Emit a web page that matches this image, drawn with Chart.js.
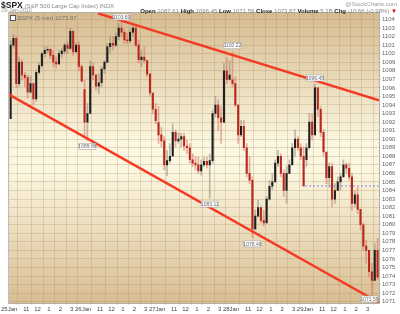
<!DOCTYPE html>
<html>
<head>
<meta charset="utf-8">
<script src="https://cdn.jsdelivr.net/npm/chart.js@4.4.1/dist/chart.umd.min.js"></script>
<style>
  html, body { margin: 0; padding: 0; background: #fff; }
  #wrap { position: relative; width: 400px; height: 314px; font-family: 'Liberation Sans', Arial, sans-serif; overflow: hidden; }
  #chart { position: absolute; left: 0; top: 0; }
  .hdr { position: absolute; white-space: nowrap; font-size: 6px; color: #888; line-height: 1; }
  .hdr b { color: #222; }
</style>
</head>
<body>
<div id="wrap">
  <canvas id="chart" width="400" height="314"></canvas>
  <div class="hdr" style="left:1px;top:1px;"><b style="font-size:8.5px;">$SPX</b> (S&amp;P 500 Large Cap Index) INDX</div>
  <div class="hdr" style="right:3px;top:1px;color:#999;">@StockCharts.com</div>
  <div class="hdr" style="left:1px;top:8px;color:#999;font-size:5.5px;">29-Jan-2010</div>
  <div class="hdr" style="right:3px;top:8px;"><b>Open</b> 1087.61 <b>High</b> 1096.45 <b>Low</b> 1071.59 <b>Close</b> 1073.87 <b>Volume</b> 5.2B <b>Chg</b> -10.66 (-0.98%) <span style="color:#d00">&#9660;</span></div>
  <div class="hdr" style="left:10px;top:15px;color:#777;"><span style="display:inline-block;width:4px;height:4px;border:1px solid #555;background:#fff;vertical-align:-1px;"></span> $SPX (5 min) 1073.87</div>
</div>
<script>
// 15-minute bars, 26 per session
const dayLabels = ['25Jan', '26Jan', '27Jan', '28Jan', '29Jan'];
const dayOpens = [1092.40, 1095.80, 1091.94, 1096.93, 1087.61];

const highs = [
  1101.5, 1102.3, 1102.0, 1099.6, 1099.3, 1097.8, 1097.5, 1097.4, 1096.6, 1098.1, 1098.9, 1100.2, 1100.8, 1100.8, 1100.6, 1100.4, 1099.6, 1100.4, 1100.6, 1101.2, 1101.4, 1102.97, 1102.7, 1101.3, 1101.4, 1098.7,
  1096.9, 1094.2, 1099.2, 1098.9, 1097.6, 1097.7, 1098.5, 1099.2, 1101.2, 1102.0, 1102.0, 1102.4, 1103.5, 1103.69, 1102.8, 1102.4, 1102.8, 1103.6, 1103.3, 1101.6, 1100.4, 1100.8, 1099.2, 1097.7, 1095.3, 1094.2,
  1093.8, 1091.4, 1090.3, 1088.7, 1089.5, 1091.8, 1091.1, 1090.7, 1090.7, 1090.7, 1089.9, 1089.5, 1088.3, 1087.9, 1087.9, 1087.6, 1087.9, 1087.9, 1088.3, 1093.4, 1095.0, 1094.6, 1093.8, 1098.9, 1099.51, 1099.2,
  1100.22, 1097.3, 1094.0, 1092.2, 1092.2, 1089.5, 1088.0, 1085.6, 1081.7, 1082.9, 1082.1, 1081.7, 1083.3, 1085.2, 1086.0, 1087.6, 1088.7, 1088.3, 1086.4, 1086.8, 1087.6, 1089.5, 1091.1, 1090.3, 1089.5, 1089.1,
  1089.5, 1093.0, 1093.0, 1096.45, 1096.0, 1093.8, 1091.1, 1088.5, 1087.2, 1087.2, 1084.8, 1085.6, 1086.0, 1087.6, 1087.2, 1087.2, 1086.0, 1084.0, 1084.4, 1081.8, 1080.2, 1078.2, 1077.0, 1075.5, 1077.8, 1078.4
];
const lows = [
  1092.4, 1100.6, 1096.0, 1096.2, 1096.9, 1096.1, 1094.8, 1095.4, 1094.0, 1094.4, 1097.6, 1098.4, 1099.6, 1100.0, 1099.4, 1098.5, 1098.3, 1098.7, 1099.6, 1100.0, 1100.0, 1100.5, 1099.8, 1100.2, 1098.0, 1096.7,
  1090.3, 1089.86, 1093.0, 1096.9, 1095.7, 1095.3, 1096.1, 1097.7, 1098.9, 1100.0, 1100.4, 1100.8, 1101.6, 1102.0, 1101.2, 1101.2, 1101.2, 1102.0, 1100.8, 1098.9, 1098.5, 1098.9, 1097.3, 1095.0, 1093.0, 1091.8,
  1089.5, 1089.1, 1086.4, 1085.7, 1087.2, 1088.7, 1089.1, 1089.5, 1089.1, 1088.7, 1088.3, 1087.2, 1086.8, 1086.4, 1086.0, 1085.8, 1086.8, 1086.6, 1083.11, 1087.2, 1092.6, 1091.0, 1089.5, 1091.9, 1096.5, 1096.9,
  1096.1, 1093.8, 1089.5, 1090.3, 1088.7, 1085.6, 1084.8, 1078.46, 1079.4, 1080.9, 1080.2, 1079.8, 1080.2, 1082.9, 1084.1, 1085.6, 1086.8, 1085.6, 1083.3, 1082.5, 1086.0, 1087.2, 1088.0, 1088.7, 1087.6, 1084.5,
  1086.8, 1088.8, 1089.9, 1090.5, 1092.6, 1090.3, 1088.0, 1084.8, 1084.4, 1082.1, 1082.5, 1084.0, 1084.1, 1085.6, 1086.0, 1085.2, 1081.7, 1082.1, 1081.3, 1079.4, 1077.0, 1075.5, 1073.9, 1071.59, 1073.5, 1073.6
];
const closes = [
  1101.0, 1101.8, 1096.5, 1099.0, 1097.5, 1097.2, 1095.5, 1096.5, 1094.7, 1097.8, 1098.6, 1100.0, 1100.4, 1100.5, 1099.8, 1099.0, 1098.8, 1100.0, 1100.3, 1101.0, 1100.6, 1102.6, 1100.2, 1101.0, 1098.5, 1096.78,
  1092.0, 1093.0, 1098.5, 1097.5, 1096.2, 1096.6, 1098.2, 1099.0, 1100.8, 1101.2, 1101.0, 1102.0, 1103.0, 1102.5, 1101.6, 1101.5, 1102.5, 1103.0, 1101.0, 1099.3, 1099.6, 1099.2, 1097.6, 1095.4, 1093.5, 1092.17,
  1090.5, 1089.8, 1087.0, 1087.5, 1088.0, 1090.8, 1089.8, 1090.0, 1090.3, 1089.2, 1089.0, 1087.6, 1087.2, 1087.0, 1086.3, 1087.0, 1087.4, 1087.0, 1087.5, 1093.0, 1094.0, 1092.5, 1092.0, 1098.0, 1097.0, 1097.5,
  1096.5, 1094.0, 1090.5, 1091.5, 1089.0, 1086.0, 1085.2, 1079.5, 1081.0, 1082.0, 1080.5, 1080.2, 1083.0, 1084.5, 1085.0, 1087.2, 1088.0, 1086.0, 1084.0, 1086.0, 1087.0, 1089.0, 1090.0, 1089.0, 1088.0, 1084.53,
  1089.0, 1092.0, 1090.5, 1096.0, 1093.5, 1090.8, 1088.5, 1085.5, 1086.8, 1083.0, 1084.0, 1085.0, 1085.6, 1087.0, 1086.6, 1085.6, 1082.5, 1083.5, 1081.8, 1080.0, 1077.5, 1077.0, 1074.5, 1073.5, 1077.0, 1073.87
];

// trend lines drawn on the chart (x in 15-min bars from 25Jan open)
const upperTrendX = [31.2, 130];
const upperTrendY = [1104.7, 1094.55];
const lowerTrendX = [0, 130];
const lowerTrendY = [1095.2, 1070.9];
const prevCloseX = [104, 130];
const prevClose = 1084.53;

const markedHighs = [1103.69, 1100.22, 1096.45];
const markedLows = [1089.86, 1083.11, 1078.46, 1071.59];

const xTickPos = [0, 6, 10, 14, 18, 22, 26, 32, 36, 40, 44, 48, 52, 58, 62, 66, 70, 74, 78, 84, 88, 92, 96, 100, 104, 110, 114, 118, 122, 126];
const xTickLabels = ['25Jan', '11', '12', '1', '2', '3', '26Jan', '11', '12', '1', '2', '3', '27Jan', '11', '12', '1', '2', '3',
                     '28Jan', '11', '12', '1', '2', '3', '29Jan', '11', '12', '1', '2', '3'];
const yTicks = [1071, 1072, 1073, 1074, 1075, 1076, 1077, 1078, 1079, 1080, 1081, 1082, 1083, 1084, 1085, 1086, 1087,
                1088, 1089, 1090, 1091, 1092, 1093, 1094, 1095, 1096, 1097, 1098, 1099, 1100, 1101, 1102, 1103, 1104];

const barsPerDay = 26;
const opens = closes.map((c, i) => i % barsPerDay === 0 ? dayOpens[i / barsPerDay] : closes[i - 1]);

const wickData = highs.map((h, i) => ({ x: i + 0.5, y: [lows[i], h] }));
const bodyData = closes.map((c, i) => ({ x: i + 0.5, y: [opens[i], c] }));
const upBar = closes.map((c, i) => c >= opens[i]);
const wickColors = upBar.map(u => u ? 'rgba(140,135,120,0.55)' : 'rgba(220,110,100,0.55)');
const bodyColors = upBar.map(u => u ? '#1e1e1e' : '#b8281d');

// tan-cream-tan background and frame
const backdrop = {
    id: 'backdrop',
    beforeDraw(chart) {
        const { ctx, chartArea: a } = chart;
        const g = ctx.createLinearGradient(0, a.top, 0, a.bottom);
        g.addColorStop(0, '#d6bb90');
        g.addColorStop(0.45, '#fbf7e1');
        g.addColorStop(0.55, '#fbf6df');
        g.addColorStop(1, '#d8bd93');
        ctx.save();
        ctx.fillStyle = g;
        ctx.fillRect(a.left, a.top, a.right - a.left, a.bottom - a.top);
        ctx.restore();
    },
    afterDraw(chart) {
        const { ctx, chartArea: a } = chart;
        ctx.save();
        ctx.strokeStyle = '#b5b0a5';
        ctx.lineWidth = 1;
        ctx.strokeRect(a.left - 0.5, a.top - 0.5, a.right - a.left + 1, a.bottom - a.top + 1);
        ctx.restore();
    }
};

// small value boxes at the marked highs and lows
const valueBoxes = {
    id: 'valueBoxes',
    afterDatasetsDraw(chart) {
        const { ctx, chartArea: a, scales: { x, y } } = chart;
        ctx.save();
        ctx.font = '5px "Liberation Sans", Arial, sans-serif';
        ctx.textAlign = 'center';
        ctx.textBaseline = 'middle';
        const box = (v, idx, above) => {
            const px = x.getPixelForValue(idx + 0.5);
            const py = y.getPixelForValue(v);
            const w = 17, h = 6;
            let bx = Math.min(Math.max(px - w / 2, a.left + 1), a.right - w - 1);
            let by = above ? py - 3 - h : py + 3;
            by = Math.min(Math.max(by, a.top + 1), a.bottom - h - 1);
            ctx.fillStyle = '#ffffff';
            ctx.strokeStyle = '#a8a8a8';
            ctx.lineWidth = 0.6;
            ctx.fillRect(bx, by, w, h);
            ctx.strokeRect(bx, by, w, h);
            ctx.fillStyle = '#666';
            ctx.fillText(v.toFixed(2), bx + w / 2, by + h / 2 + 0.3);
        };
        markedHighs.forEach(v => box(v, highs.indexOf(v), true));
        markedLows.forEach(v => box(v, lows.indexOf(v), false));
        ctx.restore();
    }
};

const tickFont = { family: '"Liberation Sans", Arial, sans-serif', size: 6 };

new Chart(document.getElementById('chart'), {
    type: 'bar',
    data: {
        datasets: [
            {
                type: 'line',
                data: upperTrendX.map((v, i) => ({ x: v, y: upperTrendY[i] })),
                borderColor: '#f53a24', borderWidth: 2.5, pointRadius: 0
            },
            {
                type: 'line',
                data: lowerTrendX.map((v, i) => ({ x: v, y: lowerTrendY[i] })),
                borderColor: '#f53a24', borderWidth: 2.5, pointRadius: 0
            },
            {
                type: 'bar',
                data: bodyData,
                backgroundColor: bodyColors,
                barThickness: 1.4, minBarLength: 1, grouped: false
            },
            {
                type: 'bar',
                data: wickData,
                backgroundColor: wickColors,
                barThickness: 1, grouped: false
            },
            {
                type: 'line',
                data: prevCloseX.map(v => ({ x: v, y: prevClose })),
                borderColor: '#8c8cf0', borderWidth: 1, borderDash: [2, 2], pointRadius: 0
            }
        ]
    },
    options: {
        responsive: false,
        animation: false,
        devicePixelRatio: 1,
        layout: { padding: { left: 8, top: 13, right: 0, bottom: 0 } },
        plugins: { legend: { display: false }, tooltip: { enabled: false } },
        scales: {
            x: {
                type: 'linear',
                min: 0, max: 130,
                offset: false,
                afterBuildTicks: s => { s.ticks = xTickPos.map(v => ({ value: v })); },
                afterFit: s => { s.height = 11; },
                ticks: {
                    autoSkip: false, maxRotation: 0, padding: 1,
                    font: tickFont, color: '#444',
                    callback: (v) => xTickLabels[xTickPos.indexOf(v)]
                },
                grid: { color: 'rgba(170,140,95,0.28)', tickLength: 2 },
                border: { display: false }
            },
            y: {
                position: 'right',
                min: 1070.85, max: 1104.75,
                afterBuildTicks: s => { s.ticks = yTicks.map(v => ({ value: v })); },
                afterFit: s => { s.width = 21; },
                ticks: {
                    autoSkip: false, padding: 1,
                    font: tickFont, color: '#666',
                    callback: v => String(v)
                },
                grid: { color: 'rgba(170,140,95,0.28)', tickLength: 2 },
                border: { display: false }
            }
        }
    },
    plugins: [backdrop, valueBoxes]
});
</script>
</body>
</html>
